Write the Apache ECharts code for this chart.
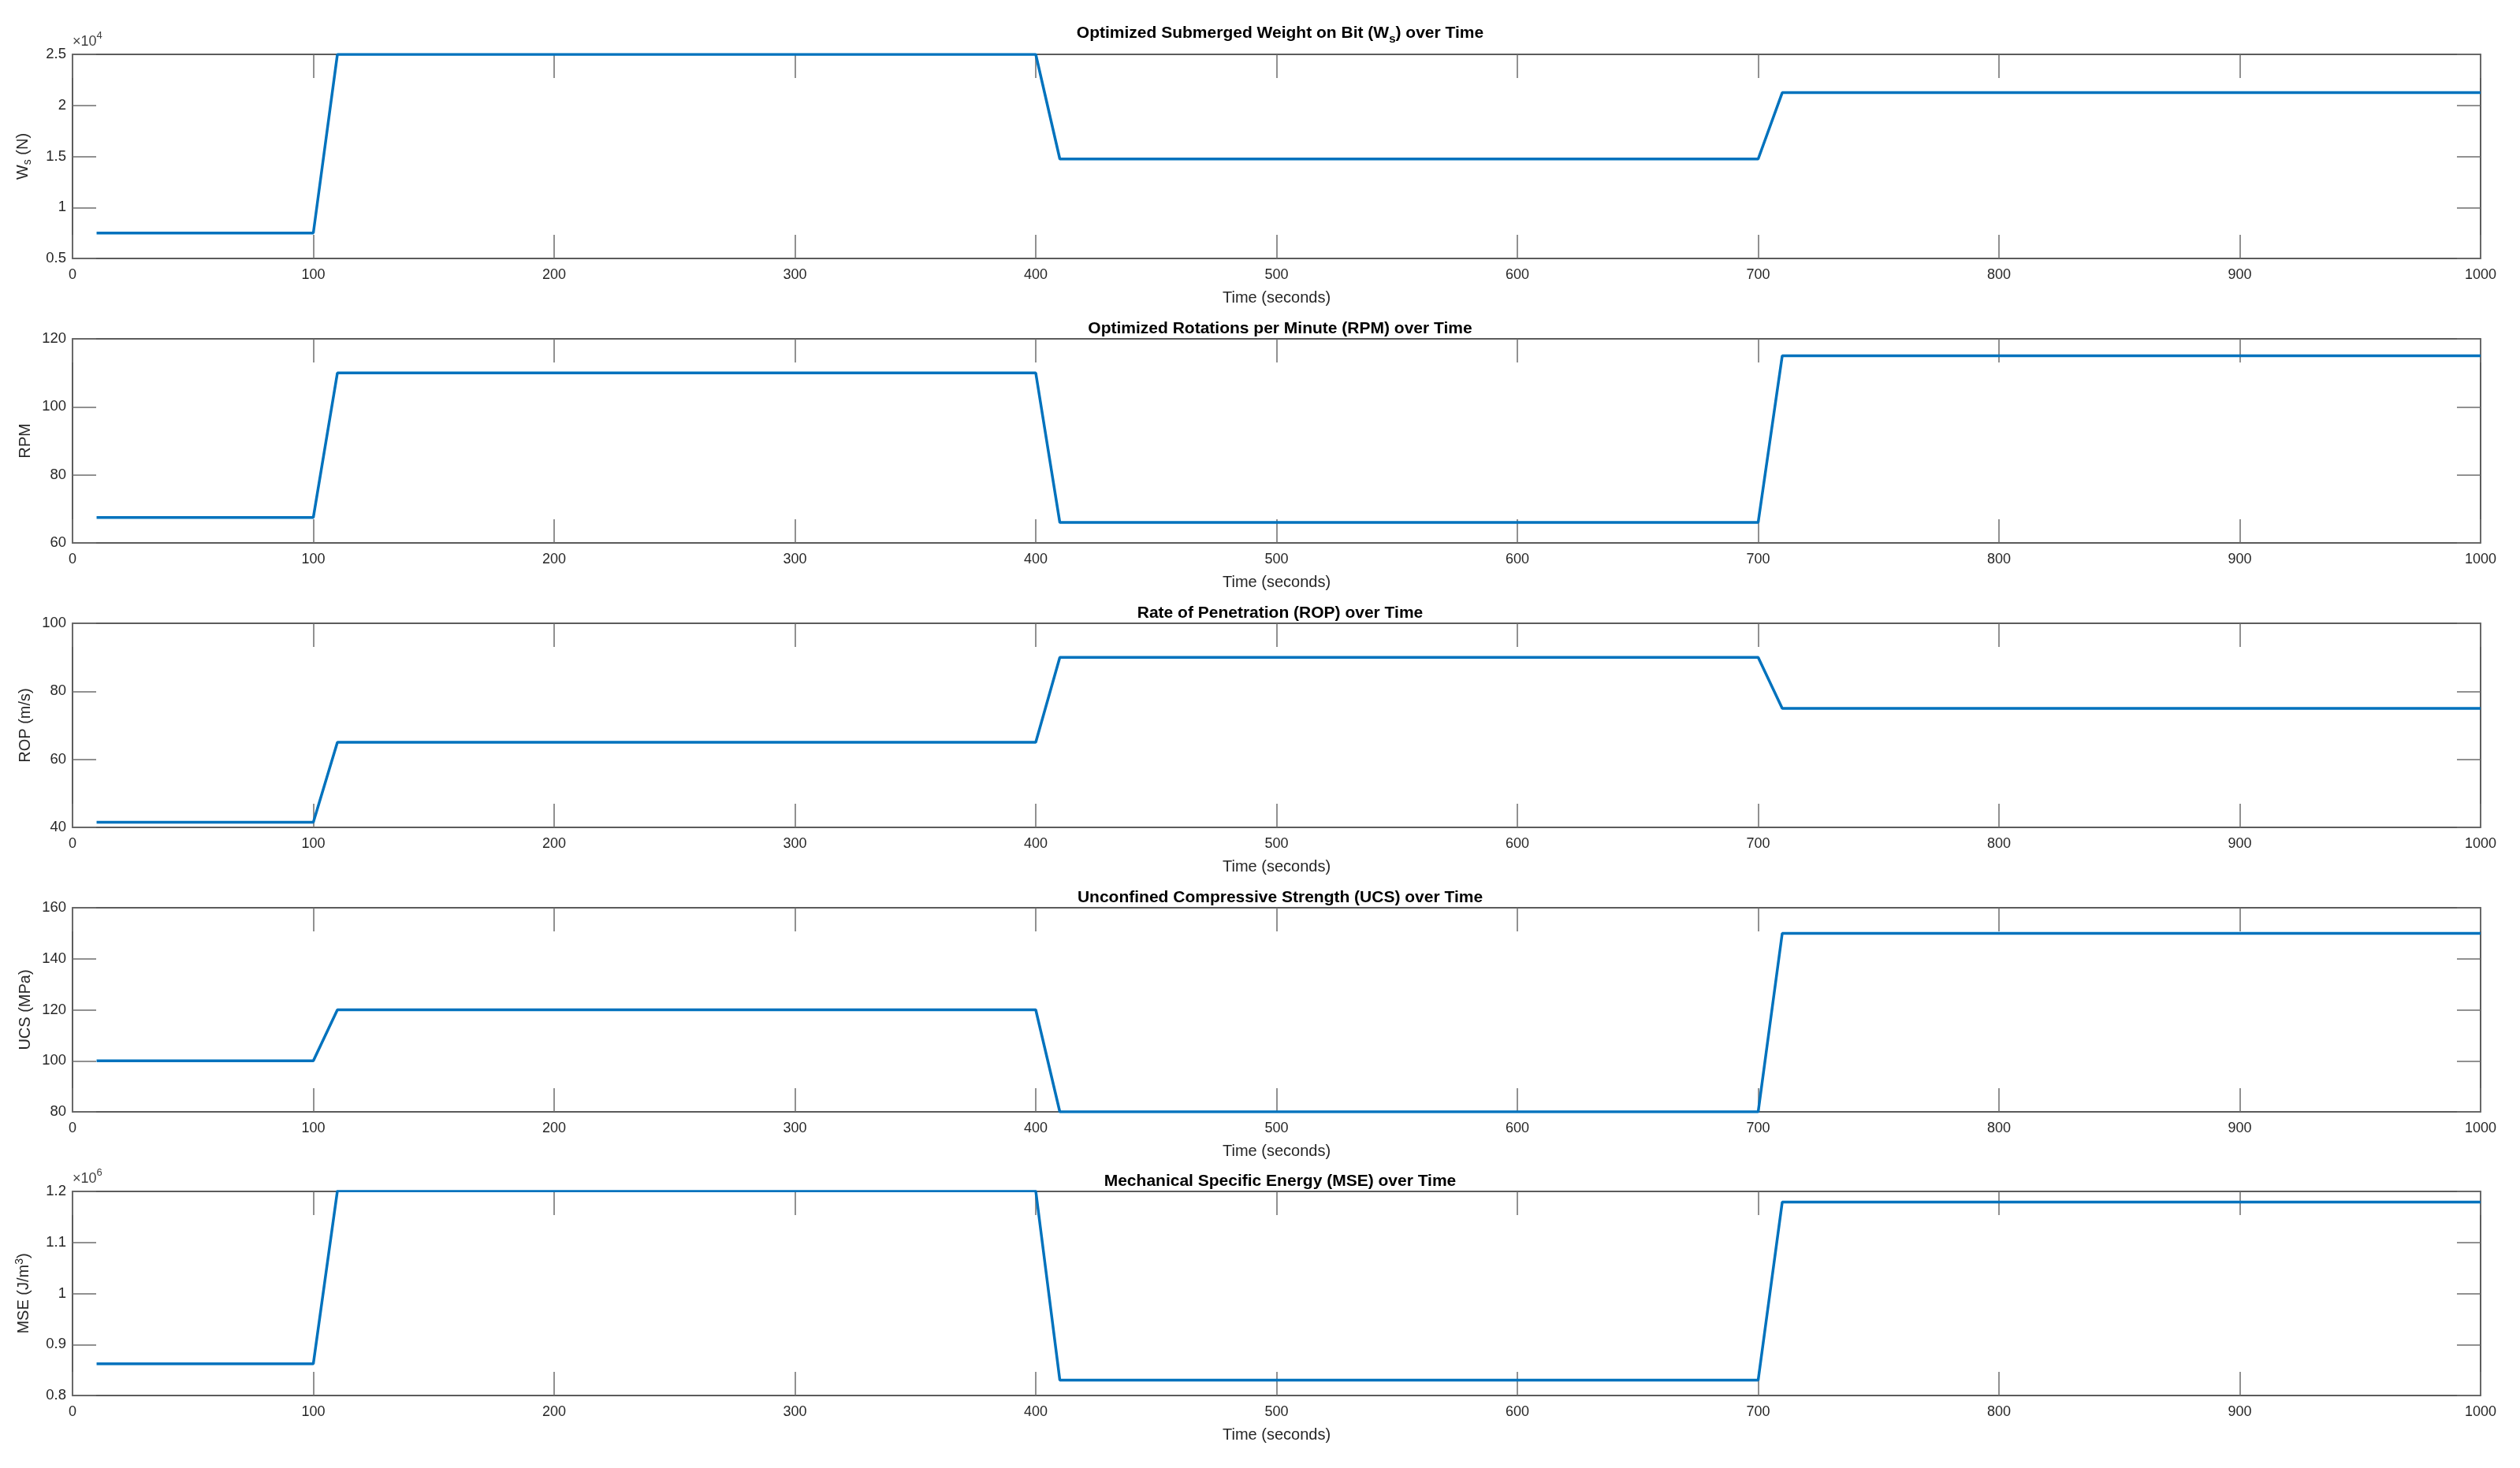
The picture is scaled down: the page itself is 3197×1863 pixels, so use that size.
<!DOCTYPE html>
<html>
<head>
<meta charset="utf-8">
<script src="https://cdn.jsdelivr.net/npm/echarts@6/dist/echarts.min.js"></script>
<style>
html,body{margin:0;padding:0;background:#fff;}
#chart{width:3197px;height:1863px;}
</style>
</head>
<body>
<div id="chart"></div>
<script>
// ---- data ----
const timeSec   = [10, 100, 110, 400, 410, 700, 710, 1000];
const wsN       = [7500, 7500, 25000, 25000, 14750, 14750, 21250, 21250];
const rpm       = [67.5, 67.5, 110, 110, 66, 66, 115, 115];
const ropMs     = [41.5, 41.5, 65, 65, 90, 90, 75, 75];
const ucsMPa    = [100, 100, 120, 120, 80, 80, 150, 150];
const mseJm3    = [862000, 862000, 1201000, 1201000, 830000, 830000, 1179000, 1179000];

const xTicks = [0, 100, 200, 300, 400, 500, 600, 700, 800, 900, 1000];

const panelTitles = [
  'Optimized Submerged Weight on Bit (W{sub|s}) over Time',
  'Optimized Rotations per Minute (RPM) over Time',
  'Rate of Penetration (ROP) over Time',
  'Unconfined Compressive Strength (UCS) over Time',
  'Mechanical Specific Energy (MSE) over Time'
];
const yNames = ['W{sub|s} (N)', 'RPM', 'ROP (m/s)', 'UCS (MPa)', 'MSE (J/m{sup|3})'];
const yMin   = [5000, 60, 40, 80, 800000];
const yMax   = [25000, 120, 100, 160, 1200000];
const yStep  = [5000, 20, 20, 20, 100000];
const yScale = [1e4, 1, 1, 1, 1e6];
const yExpText = ['4', null, null, null, '6'];
const seriesData = [wsN, rpm, ropMs, ucsMPa, mseJm3];

// ---- layout ----
const FONT = '"Liberation Sans", Arial, Helvetica, sans-serif';
const gridLeft = 92, gridWidth = 3055, gridH = 259;
const gridTops = [69, 430, 791, 1152, 1512];
const titleOffsets = [-46, -28, -28, -28, -28];
const axisColor = '#262626';
const tickColor = '#6e6e6e';
const lineColor = '#0072BD';

const grids = [], xAxes = [], yAxes = [], series = [], titles = [], graphics = [];

for (let i = 0; i < 5; i++) {
  grids.push({left: gridLeft, top: gridTops[i], width: gridWidth, height: gridH, containLabel: false});
  const xBase = {
    gridIndex: i, type: 'value', min: xTicks[0], max: xTicks[xTicks.length - 1], interval: xTicks[1] - xTicks[0],
    axisLine: {show: true, onZero: false, lineStyle: {color: axisColor, width: 1.5}},
    axisTick: {show: true, inside: true, length: 30, lineStyle: {color: tickColor, width: 1.5}},
    splitLine: {show: false}
  };
  xAxes.push(Object.assign({}, xBase, {
    position: 'bottom',
    name: 'Time (seconds)', nameLocation: 'middle', nameGap: 40,
    nameTextStyle: {fontFamily: FONT, fontSize: 20, color: axisColor},
    axisLabel: {show: true, margin: 12, fontFamily: FONT, fontSize: 18, color: axisColor,
      formatter: v => String(v)}
  }));
  xAxes.push(Object.assign({}, xBase, {position: 'top', axisLabel: {show: false}}));

  const yBase = {
    gridIndex: i, type: 'value', min: yMin[i], max: yMax[i], interval: yStep[i],
    axisLine: {show: true, onZero: false, lineStyle: {color: axisColor, width: 1.5}},
    axisTick: {show: true, inside: true, length: 30, lineStyle: {color: tickColor, width: 1.5}},
    splitLine: {show: false}
  };
  const sc = yScale[i];
  yAxes.push(Object.assign({}, yBase, {
    position: 'left',
    name: yNames[i], nameLocation: 'middle', nameGap: 50, nameRotate: 90,
    nameTextStyle: {fontFamily: FONT, fontSize: 20, color: axisColor,
      rich: {sub: {fontFamily: FONT, fontSize: 14, color: axisColor, verticalAlign: 'bottom', padding: [12, 0, 0, 0]},
             sup: {fontFamily: FONT, fontSize: 14, color: axisColor, verticalAlign: 'top', padding: [0, 0, 10, 0]}}},
    axisLabel: {show: true, margin: 8, fontFamily: FONT, fontSize: 18.5, color: axisColor,
      formatter: v => String(+(v / sc).toFixed(3))}
  }));
  yAxes.push(Object.assign({}, yBase, {position: 'right', axisLabel: {show: false}}));

  series.push({
    type: 'line', xAxisIndex: 2 * i, yAxisIndex: 2 * i,
    data: timeSec.map((t, k) => [t, seriesData[i][k]]),
    showSymbol: false, symbol: 'none', animation: false,
    lineStyle: {color: lineColor, width: 3.5}
  });

  titles.push({
    text: panelTitles[i], left: 1619, top: gridTops[i] + titleOffsets[i], textAlign: 'center',
    textStyle: {fontFamily: FONT, fontSize: 21, fontWeight: 'bold', color: '#000',
      rich: {sub: {fontFamily: FONT, fontSize: 15, fontWeight: 'bold', color: '#000', padding: [14, 0, 0, 0]}}}
  });

  if (yExpText[i]) {
    graphics.push({
      type: 'text', left: gridLeft, top: gridTops[i] - 30,
      style: {text: '{a|×10}{b|' + yExpText[i] + '}',
        rich: {a: {fontFamily: FONT, fontSize: 18, fill: '#404040', padding: [8, 0, 0, 0]},
               b: {fontFamily: FONT, fontSize: 13, fill: '#404040', padding: [0, 0, 8, 0]}}}
    });
  }
}

const chart = echarts.init(document.getElementById('chart'), null, {renderer: 'canvas'});
chart.setOption({
  backgroundColor: '#ffffff',
  animation: false,
  title: titles,
  grid: grids,
  xAxis: xAxes,
  yAxis: yAxes,
  series: series,
  graphic: graphics
});
</script>
</body>
</html>
